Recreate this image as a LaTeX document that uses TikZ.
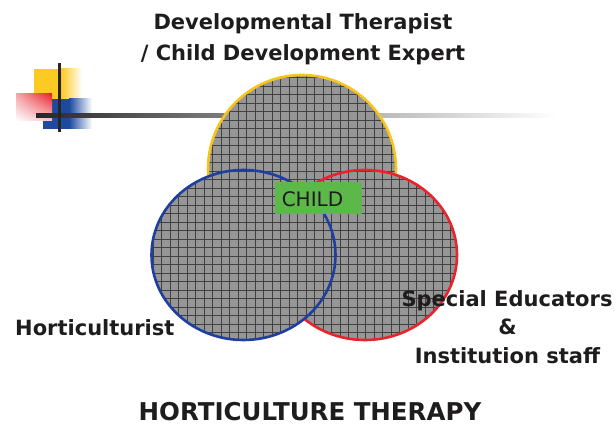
\documentclass[tikz,border=0pt]{standalone}
\usepackage{fontspec}
\setmainfont{DejaVu Sans}
\usetikzlibrary{shadings}
\definecolor{txt}{HTML}{1E1C1D}
\definecolor{yel}{HTML}{F8C31A}
\definecolor{logoyel}{HTML}{FDC923}
\definecolor{blu}{HTML}{1F3FA0}
\definecolor{logoblu}{HTML}{1E4A9E}
\definecolor{rd}{HTML}{E8232C}
\definecolor{grn}{HTML}{5BB849}
\definecolor{venngray}{HTML}{969696}
\newcommand\gridblob[4]{%
  \begin{scope}
    \clip (#1,#2) ellipse [x radius=#3pt, y radius=#4pt];
    \fill[venngray] (0,0) rectangle (616,426);
    \draw[gridline] (0,0) grid (616,426);
  \end{scope}}
\begin{document}
\begin{tikzpicture}[x=1pt,y=1pt,
  gridline/.style={black!75, line width=0.6pt, step=8.5pt},
  lab/.style={text=txt, font=\fontsize{21}{25}\selectfont\bfseries, inner sep=0pt, anchor=base},
  outl/.style={line width=2.6pt}]
\useasboundingbox (0,0) rectangle (616,426);
% logo
\fill[logoyel] (34,327) rectangle (61,357);
\shade[left color=logoyel, right color=white] (61,327) rectangle (82,357);
\fill[logoblu] (43,297) rectangle (69,327);
\shade[left color=logoblu, right color=white] (69,297) rectangle (92,327);
\shade[upper right=rd, lower left=white, upper left=rd!40!white, lower right=rd!25!white] (16,305) rectangle (52,332);
\shade[left color=black!85, right color=black!55] (36,308.8) rectangle (200,312.3);
\shade[left color=black!55, right color=white] (200,308.8) rectangle (556,312.3);
\fill[black!85] (57.5,294) rectangle (60.5,363);
% circles
\gridblob{302}{257}{94}{94}
\draw[yel, outl] (302,257) circle [radius=94pt];
\gridblob{365}{171}{92}{85}
\draw[rd, outl] (365,171) ellipse [x radius=92pt, y radius=85pt];
\gridblob{243.5}{171}{92}{85}
\draw[blu, outl] (243.5,171) ellipse [x radius=92pt, y radius=85pt];
% child box
\fill[grn] (275,212) rectangle (362,244);
\node[text=txt, font=\fontsize{20}{24}\selectfont, inner sep=0pt, anchor=base] (child) at (312.5,219) {CHILD};
% labels
\node[lab] (t1) at (303,396) {Developmental Therapist};
\node[lab] (t2) at (303,365) {/ Child Development Expert};
\node[lab, anchor=base west] (hort) at (15,90) {Horticulturist};
\node[lab] (spec) at (507,119) {Special Educators};
\node[lab] (amp) at (507.5,91) {\&};
\node[lab] (inst) at (507.5,63) {Institution staff};
\node[lab, font=\fontsize{24.5}{29}\selectfont\bfseries] (title) at (310,6) {HORTICULTURE THERAPY};
\end{tikzpicture}
\end{document}
